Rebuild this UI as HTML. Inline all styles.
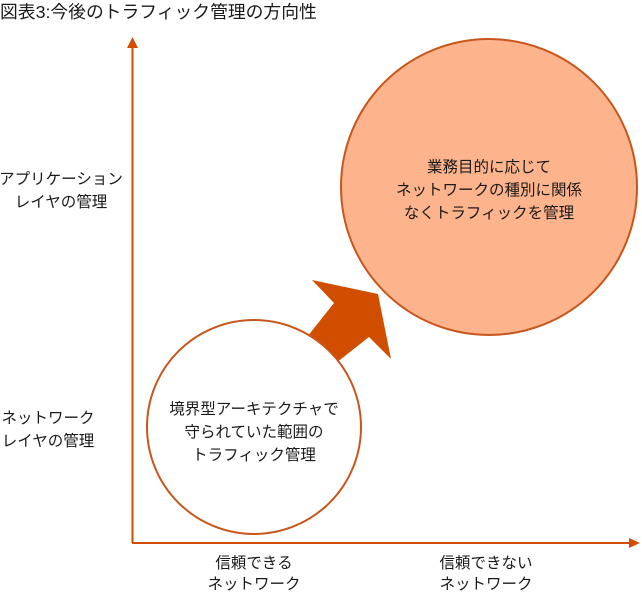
<!DOCTYPE html>
<html><head><meta charset="utf-8"><style>
body{margin:0;background:#fff;}
svg text{font-family:"Liberation Sans","Noto Sans CJK JP",sans-serif;fill:#1a1a1a;font-size:15.5px;}
</style></head><body>
<svg width="642" height="593" viewBox="0 0 642 593" xmlns="http://www.w3.org/2000/svg">
<text x="0" y="18" style="font-size:17.8px">図表3:今後のトラフィック管理の方向性</text>
<line x1="132.5" y1="45" x2="132.5" y2="543" stroke="#d14e00" stroke-width="2"/>
<polygon points="132.5,37 127,48 138,48" fill="#d14e00"/>
<line x1="132" y1="543" x2="630" y2="543" stroke="#d14e00" stroke-width="2"/>
<polygon points="640,543 629,538 629,548" fill="#d14e00"/>
<circle cx="489" cy="187" r="148" fill="#fdb38b" stroke="#c8561c" stroke-width="2"/>
<polygon points="312,280 378,294 391,359 369,337 336,363 307,337 334,303" fill="#d14e00"/>
<circle cx="254" cy="427" r="107" fill="#fff" stroke="#c8561c" stroke-width="2"/>
<text x="489" y="172" text-anchor="middle">業務目的に応じて</text>
<text x="489" y="195" text-anchor="middle">ネットワークの種別に関係</text>
<text x="489" y="218" text-anchor="middle">なくトラフィックを管理</text>
<text x="254" y="414" text-anchor="middle">境界型アーキテクチャで</text>
<text x="254" y="437" text-anchor="middle">守られていた範囲の</text>
<text x="254" y="460" text-anchor="middle">トラフィック管理</text>
<text x="61" y="184" text-anchor="middle">アプリケーション</text>
<text x="61" y="207" text-anchor="middle">レイヤの管理</text>
<text x="48" y="423" text-anchor="middle">ネットワーク</text>
<text x="48" y="446" text-anchor="middle">レイヤの管理</text>
<text x="254" y="568" text-anchor="middle">信頼できる</text>
<text x="254" y="589" text-anchor="middle">ネットワーク</text>
<text x="486" y="568" text-anchor="middle">信頼できない</text>
<text x="486" y="589" text-anchor="middle">ネットワーク</text>
</svg>
</body></html>
